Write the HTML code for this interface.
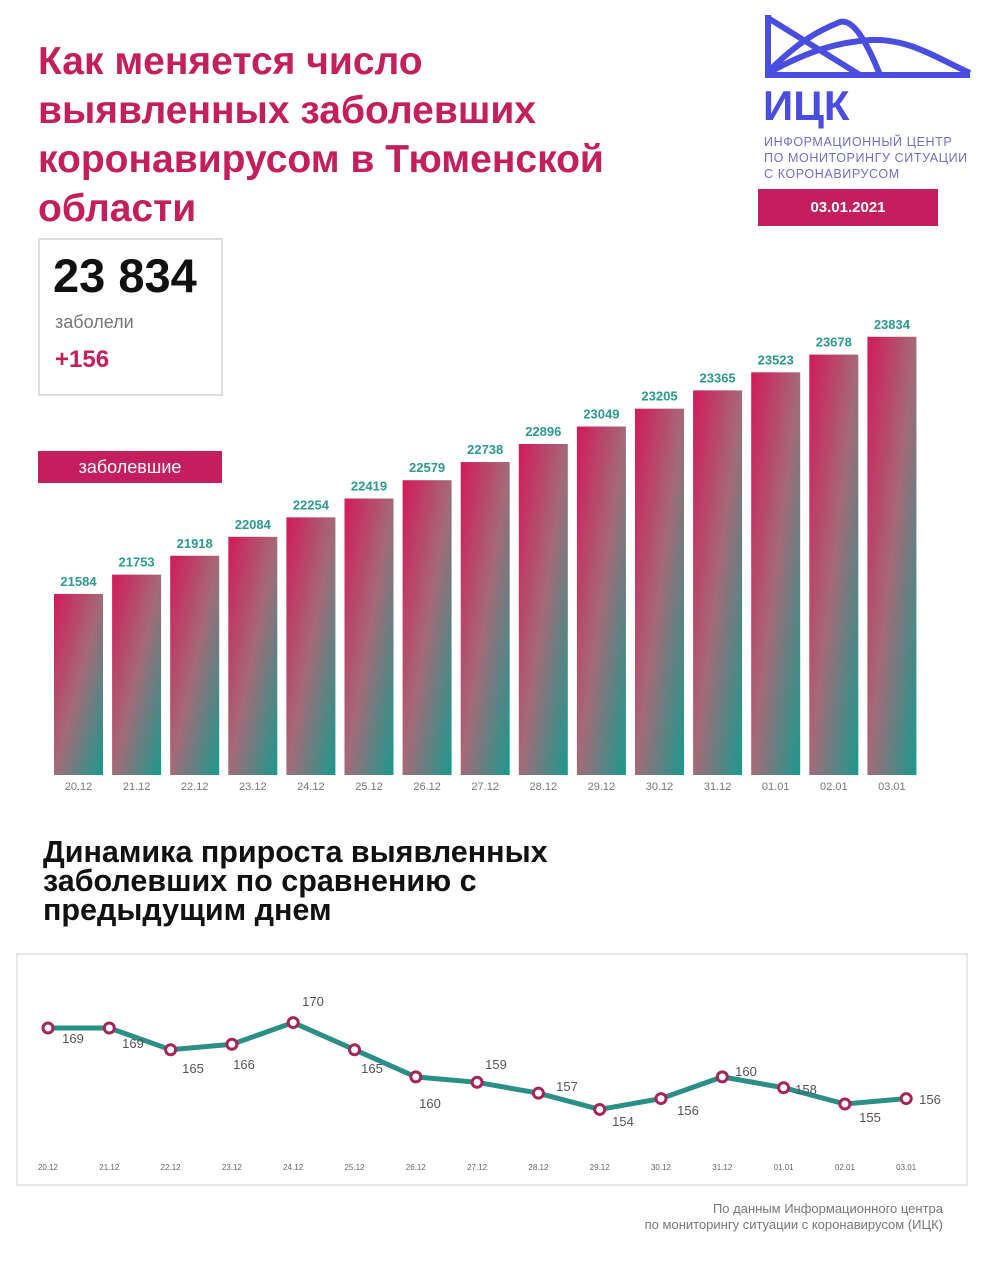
<!DOCTYPE html>
<html><head><meta charset="utf-8"><style>
body{margin:0;width:984px;height:1270px;background:#fff;font-family:"Liberation Sans",sans-serif;position:relative;overflow:hidden}
.a{position:absolute}
</style></head><body>
<div class="a" style="left:38px;top:37px;font-size:39px;font-weight:bold;color:#c41f5c;line-height:49px;width:640px">Как меняется число выявленных заболевших коронавирусом в Тюменской области</div>
<svg class="a" style="left:760px;top:10px" width="220" height="90"><g fill="none" stroke="#4a4ee0" stroke-width="6"><path d="M8 5 V65 H210"/><path d="M8 8 L100 65"/><path d="M8 62 C40 30 60 20 80 12 C95 8 110 40 120 65"/><path d="M10 62 C50 40 80 32 110 30 C150 28 180 50 210 63"/></g></svg>
<div class="a" style="left:763px;top:82px;font-size:42px;font-weight:bold;color:#4a4ee0">ИЦК</div>
<div class="a" style="left:764px;top:134px;font-size:12.5px;color:#6f6fc8;line-height:16px;letter-spacing:0.6px">ИНФОРМАЦИОННЫЙ ЦЕНТР<br>ПО МОНИТОРИНГУ СИТУАЦИИ<br>С КОРОНАВИРУСОМ</div>
<div class="a" style="left:758px;top:189px;width:180px;height:37px;background:#c41f5c;color:#fff;font-weight:bold;font-size:15px;text-align:center;line-height:37px">03.01.2021</div>
<div class="a" style="left:38px;top:238px;width:185px;height:158px;border:2px solid #ddd;box-sizing:border-box"></div>
<div class="a" style="left:53px;top:248px;font-size:47px;font-weight:bold;color:#111">23 834</div>
<div class="a" style="left:55px;top:312px;font-size:18px;color:#777">заболели</div>
<div class="a" style="left:55px;top:346px;font-size:24px;font-weight:bold;color:#c41f5c">+156</div>
<div class="a" style="left:38px;top:451px;width:184px;height:32px;background:#c41f5c;color:#fff;font-size:18px;text-align:center;line-height:32px">заболевшие</div>
<svg class="a" style="left:0;top:0" width="984" height="1270">
<defs><linearGradient id="g" x1="0" y1="0" x2="1" y2="1"><stop offset="0" stop-color="#d21a5a"/><stop offset="0.5" stop-color="#a46a78"/><stop offset="1" stop-color="#199a8e"/></linearGradient></defs>
<g id="bars" font-family="Liberation Sans" text-anchor="middle"></g>
<rect x="17" y="954" width="950" height="231" fill="none" stroke="#e8e8e8" stroke-width="2"/>
<g id="line" font-family="Liberation Sans"></g>
</svg>
<div class="a" style="left:43px;top:838px;font-size:30.5px;font-weight:bold;color:#111;line-height:29px">Динамика прироста выявленных<br>заболевших по сравнению с<br>предыдущим днем</div>
<div class="a" style="left:560px;top:1201px;width:383px;text-align:right;font-size:13px;color:#777;line-height:16px">По данным Информационного центра<br>по мониторингу ситуации с коронавирусом (ИЦК)</div>
<script>
var d=["20.12","21.12","22.12","23.12","24.12","25.12","26.12","27.12","28.12","29.12","30.12","31.12","01.01","02.01","03.01"];
var v=[21584,21753,21918,22084,22254,22419,22579,22738,22896,23049,23205,23365,23523,23678,23834];
var s="";
for(var i=0;i<15;i++){var x=54+i*58.1,h=(v[i]-20000)*0.1143,y=775-h;
s+='<rect x="'+x+'" y="'+y+'" width="49" height="'+h+'" fill="url(#g)"/>';
s+='<text x="'+(x+24.5)+'" y="'+(y-8)+'" font-size="13" font-weight="bold" fill="#2a9a90">'+v[i]+'</text>';
s+='<text x="'+(x+24.5)+'" y="790" font-size="11" fill="#777">'+d[i]+'</text>';}
document.getElementById("bars").innerHTML=s;
var lv=[169,169,165,166,170,165,160,159,157,154,156,160,158,155,156];
var lp=[[73,1043],[133,1048],[193,1073],[244,1069],[313,1006],[372,1073],[430,1108],[496,1069],[567,1091],[623,1126],[688,1115],[746,1076],[806,1094],[870,1122],[930,1104]];
var pts=[],t="",c="";
for(var i=0;i<15;i++){var x=48+i*61.3,y=1028-(lv[i]-169)*5.43;pts.push(x+","+y);
c+='<circle cx="'+x+'" cy="'+y+'" r="5" fill="#fff" stroke="#a5245a" stroke-width="3"/>';
t+='<text x="'+lp[i][0]+'" y="'+lp[i][1]+'" font-size="13" fill="#555" text-anchor="middle">'+lv[i]+'</text>';
t+='<text x="'+x+'" y="1170" font-size="8" fill="#666" text-anchor="middle">'+d[i]+'</text>';}
document.getElementById("line").innerHTML='<polyline points="'+pts.join(" ")+'" fill="none" stroke="#2a8f86" stroke-width="5"/>'+c+t;
</script>
</body></html>
